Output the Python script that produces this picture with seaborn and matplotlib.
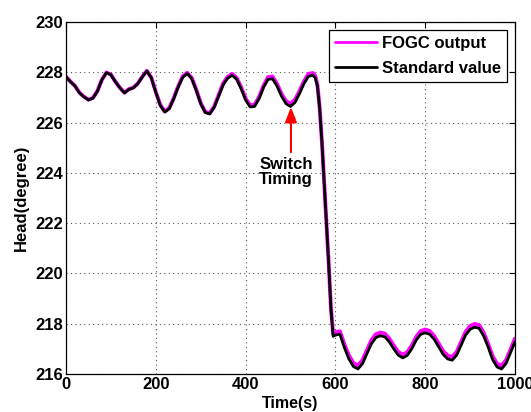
import matplotlib
matplotlib.use("Agg")
import matplotlib.pyplot as plt
import seaborn as sns
import pandas as pd

# Time stamps (s) and heading traces (degree)
time_s = [0, 10, 20, 30, 40, 50, 60, 70, 80, 90,
          100, 110, 120, 130, 140, 150, 160, 170, 180, 190,
          200, 210, 220, 230, 240, 250, 260, 270, 280, 290,
          300, 310, 320, 330, 340, 350, 360, 370, 380, 390,
          400, 410, 420, 430, 440, 450, 460, 470, 480, 490,
          500, 510, 520, 530, 540, 550, 555, 560, 565, 570,
          575, 580, 585, 590, 595, 600, 610, 620, 630, 640,
          650, 660, 670, 680, 690, 700, 710, 720, 730, 740,
          750, 760, 770, 780, 790, 800, 810, 820, 830, 840,
          850, 860, 870, 880, 890, 900, 910, 920, 930, 940,
          950, 960, 970, 980, 990, 1000]

standard_value = [227.82, 227.62, 227.45, 227.18, 227.02, 226.90, 226.97, 227.25, 227.70, 227.98,
                  227.90, 227.62, 227.38, 227.18, 227.32, 227.38, 227.55, 227.82, 228.05, 227.78,
                  227.20, 226.68, 226.42, 226.55, 226.95, 227.42, 227.80, 227.95, 227.74, 227.28,
                  226.75, 226.40, 226.34, 226.60, 227.05, 227.50, 227.76, 227.88, 227.72, 227.35,
                  226.90, 226.62, 226.64, 226.95, 227.40, 227.72, 227.74, 227.45, 227.05, 226.75,
                  226.64, 226.80, 227.15, 227.55, 227.84, 227.88, 227.78, 227.45, 226.55, 225.20,
                  223.60, 222.00, 220.40, 218.60, 217.50, 217.55, 217.58, 217.05, 216.60, 216.30,
                  216.20, 216.40, 216.80, 217.20, 217.45, 217.52, 217.48, 217.28, 217.00, 216.75,
                  216.64, 216.74, 217.00, 217.35, 217.58, 217.64, 217.58, 217.38, 217.08, 216.78,
                  216.60, 216.55, 216.75, 217.15, 217.55, 217.78, 217.86, 217.82, 217.52, 217.08,
                  216.58, 216.28, 216.20, 216.42, 216.85, 217.28]

fogc_output = [227.83, 227.63, 227.46, 227.19, 227.03, 226.91, 226.98, 227.26, 227.71, 227.99,
               227.91, 227.63, 227.39, 227.19, 227.33, 227.39, 227.56, 227.83, 228.06, 227.79,
               227.22, 226.70, 226.44, 226.58, 226.98, 227.45, 227.84, 227.98, 227.78, 227.32,
               226.78, 226.43, 226.37, 226.64, 227.10, 227.56, 227.82, 227.94, 227.78, 227.41,
               226.96, 226.69, 226.71, 227.02, 227.47, 227.81, 227.83, 227.54, 227.14, 226.85,
               226.75, 226.91, 227.25, 227.64, 227.94, 227.97, 227.86, 227.50, 226.58, 225.22,
               223.62, 222.02, 220.42, 218.64, 217.60, 217.66, 217.70, 217.18, 216.74, 216.44,
               216.34, 216.54, 216.94, 217.34, 217.58, 217.65, 217.61, 217.41, 217.13, 216.88,
               216.77, 216.87, 217.13, 217.48, 217.71, 217.77, 217.71, 217.51, 217.21, 216.91,
               216.73, 216.68, 216.88, 217.28, 217.68, 217.91, 217.99, 217.95, 217.65, 217.21,
               216.71, 216.41, 216.33, 216.55, 216.98, 217.41]

series_names = ["FOGC output", "Standard value"]
series_colors = ["#ff00ff", "#000000"]

x_ticks = [0, 200, 400, 600, 800, 1000]
y_ticks = [216, 218, 220, 222, 224, 226, 228, 230]

sns.set_style("white")
plt.rcParams["font.family"] = ["Liberation Sans", "DejaVu Sans"]
plt.rcParams["font.weight"] = "bold"
plt.rcParams["text.color"] = "black"
plt.rcParams["axes.labelcolor"] = "black"
plt.rcParams["xtick.color"] = "black"
plt.rcParams["ytick.color"] = "black"

df = pd.DataFrame({
    "Time(s)": time_s * 2,
    "Head(degree)": fogc_output + standard_value,
    "Series": [series_names[0]] * len(time_s) + [series_names[1]] * len(time_s),
})

fig = plt.figure(figsize=(5.31, 4.12), dpi=100)
ax = fig.add_axes([0.1243, 0.0922, 0.8456, 0.8544])

sns.lineplot(data=df, x="Time(s)", y="Head(degree)", hue="Series",
             palette=dict(zip(series_names, series_colors)),
             size="Series", sizes={series_names[0]: 2.8, series_names[1]: 2.0},
             ax=ax, legend=False, estimator=None, sort=False)

ax.set_xlim(0, 1000)
ax.set_ylim(216, 230)
ax.set_xticks(x_ticks)
ax.set_yticks(y_ticks)
ax.tick_params(direction="in", length=4, width=0.8, top=True, right=True,
               labelsize=12, colors="black", pad=2)
for lbl in ax.get_xticklabels() + ax.get_yticklabels():
    lbl.set_fontweight("bold")
ax.grid(True, linestyle=(0, (1, 3)), color="#555555", linewidth=0.8)
for sp in ax.spines.values():
    sp.set_color("black")
    sp.set_linewidth(0.9)
    sp.set_visible(True)

ax.set_xlabel("Time(s)", fontsize=11.5, fontweight="bold", labelpad=3)
ax.set_ylabel("Head(degree)", fontsize=12, fontweight="bold", labelpad=5)

# Legend with explicit handles
handles = [plt.Line2D([], [], color=series_colors[0], lw=2.0),
           plt.Line2D([], [], color=series_colors[1], lw=2.0)]
leg = ax.legend(handles, series_names, loc="upper right", fancybox=False,
                framealpha=1, edgecolor="black", handlelength=2.5,
                borderaxespad=0.5, labelspacing=0.6, borderpad=0.35,
                handletextpad=0.3, prop={"weight": "bold", "size": 12})
leg.get_frame().set_linewidth(0.9)

# Switch annotation: red arrow up to the curve, label underneath
ax.annotate("", xy=(501, 226.62), xytext=(501, 224.82),
            arrowprops=dict(arrowstyle="-|>,head_length=0.9,head_width=0.35",
                            color="red", lw=1.5, shrinkA=0, shrinkB=0))
ax.text(490, 224.03, "Switch\nTiming", ha="center", va="center",
        fontsize=12, fontweight="bold", linespacing=1.05)

fig.savefig("out.png", dpi=100)
